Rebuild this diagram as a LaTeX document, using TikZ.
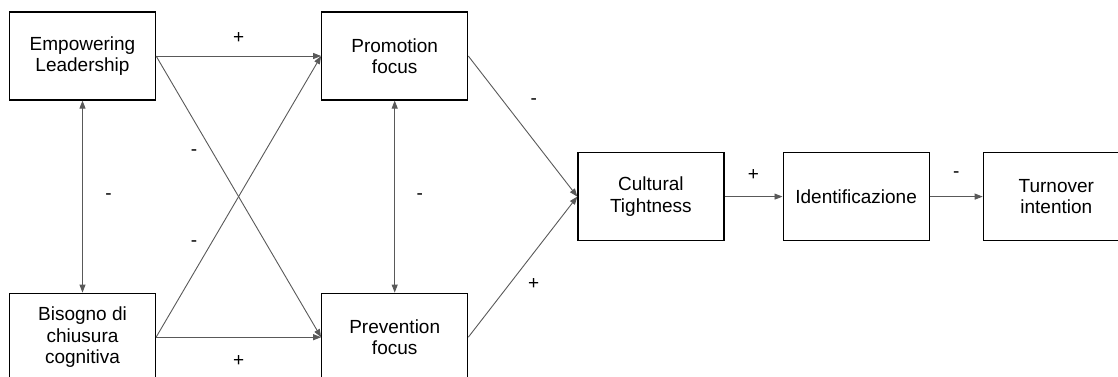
\documentclass[tikz,border=0pt]{standalone}
\usepackage{fontspec}
\setmainfont{Liberation Sans}
\usetikzlibrary{arrows.meta, positioning, calc}

\begin{document}
\begin{tikzpicture}[
    x=1pt, y=1pt,
    box/.style={rectangle, draw, line width=1.2pt, minimum width=146pt, minimum height=88pt, inner sep=0pt, align=center, font=\fontsize{19}{21.5}\selectfont},
    sign/.style={inner sep=0pt, font=\fontsize{19}{21.5}\selectfont},
    arrow/.style={-{Triangle[length=8pt, width=6pt]}, line width=0.9pt, draw=black!65},
    twoway/.style={{Triangle[length=8pt, width=6pt]}-{Triangle[length=8pt, width=6pt]}, line width=0.9pt, draw=black!65}
]
    \useasboundingbox (0,0) rectangle (1118,-376);

    \node[box] (emp) at (82.5,-56) {Empowering\\Leadership};
    \node[box, below=192pt of emp] (bis) {Bisogno di\\chiusura\\cognitiva};
    \node[box, right=165pt of emp] (promo) {Promotion\\focus};
    \node[box, right=165pt of bis] (prev) {Prevention\\focus};

    \node[box, anchor=west] (cult) at ($(promo.east)!0.5!(prev.east) + (109,0)$) {Cultural\\Tightness};
    \node[box, right=58pt of cult] (ident) {Identificazione};
    \node[box, right=53pt of ident] (turn) {Turnover\\intention};

    \draw[arrow] (emp) -- node[sign, yshift=18pt] {+} (promo);
    \draw[arrow] (bis) -- node[sign, yshift=-24pt] {+} (prev);
    \draw[arrow] (emp.east) -- node[sign, pos=0.23, yshift=-32pt] {-} (prev.west);
    \draw[arrow] (bis.east) -- node[sign, pos=0.23, yshift=29pt] {-} (promo.west);

    \draw[twoway] (emp) -- node[sign, xshift=26pt] {-} (bis);
    \draw[twoway] (promo) -- node[sign, xshift=25pt] {-} (prev);

    \draw[arrow] (promo.east) -- node[sign, pos=0.6, yshift=39pt] {-} (cult.west);
    \draw[arrow] (prev.east) -- node[sign, pos=0.6, yshift=-31pt] {+} (cult.west);
    \draw[arrow] (cult) -- node[sign, yshift=22pt] {+} (ident);
    \draw[arrow] (ident) -- node[sign, yshift=22pt] {-} (turn);
\end{tikzpicture}
\end{document}
